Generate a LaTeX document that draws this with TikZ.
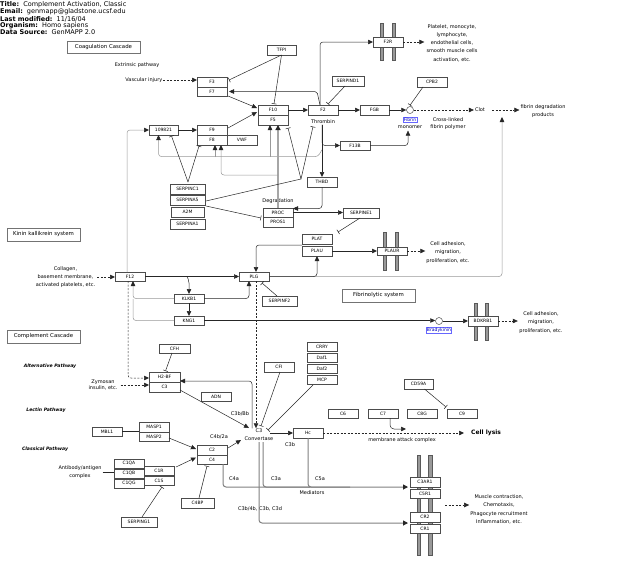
\documentclass[tikz,border=0pt]{standalone}
\usepackage{fontspec}
\setmainfont{DejaVu Sans}
\usetikzlibrary{arrows.meta,calc}
\newcommand\fsg{\fontsize{4.5}{5.5}\selectfont}
\newcommand\fsa{\fontsize{5}{8.3}\selectfont}
\newcommand\fsh{\fontsize{6.5}{7}\selectfont}
\newcommand\fsl{\fontsize{5.4}{6.5}\selectfont}
\newcommand\fsc{\fontsize{6}{7}\selectfont}
\tikzset{
 gene/.style={draw=black!70, fill=white, line width=0.5pt, inner sep=0pt, outer sep=0pt, font=\fsg},
 lbl/.style={draw=black!55, fill=white, line width=0.6pt, inner sep=0pt, font=\fsl},
 txt/.style={inner sep=0.5pt, font=\fsa, align=center},
 con/.style={line width=0.5pt, draw=black!85},
 arr/.style={con, -{Triangle[length=5pt,width=4.5pt]}},
 tee/.style={con, -{Bar[width=5pt]}},
 dsh/.style={dash pattern=on 2pt off 1.5pt},
 gln/.style={line width=0.5pt, draw=black!40},
 garr/.style={gln, -{Triangle[length=5pt,width=4.5pt,color=black!85]}},
 thk/.style={line width=1.6pt, draw=black!35, -{Triangle[length=5pt,width=5pt,color=black!85]}},
 med/.style={line width=1pt, draw=black!50},
 medarr/.style={med, -{Triangle[length=5pt,width=5pt,color=black!85]}},
 mbar/.style={fill=black!40, draw=black!65, line width=0.4pt},
 blbl/.style={draw=blue!60, fill=white, text=blue!75!black, font=\fsg, inner sep=0.6pt, line width=0.4pt},
 dot/.style={circle, draw=black!70, fill=white, minimum size=7pt, inner sep=0pt, line width=0.5pt},
}
\newcommand\gbx[6]{\node[gene, minimum width={(#4-#2)*1pt}, minimum height={(#5-#3)*1pt}] (#1) at ({(#2+#4)/2},{(#3+#5)/2}) {#6};}
\newcommand\lbx[6]{\node[lbl, minimum width={(#4-#2)*1pt}, minimum height={(#5-#3)*1pt}] (#1) at ({(#2+#4)/2},{(#3+#5)/2}) {#6};}
\begin{document}
\begin{tikzpicture}[x=1pt,y=-1pt]
\useasboundingbox (0,0) rectangle (623,563);
\fill[white] (0,0) rectangle (623,563);
% header
\node[anchor=west, inner sep=0, font=\fsh] (h1) at (0,5) {\textbf{Title:}\ \ Complement Activation, Classic};
\node[anchor=west, inner sep=0, font=\fsh] (h2) at (0,12) {\textbf{Email:}\ \ genmapp@gladstone.ucsf.edu};
\node[anchor=west, inner sep=0, font=\fsh] (h3) at (0,19) {\textbf{Last modified:}\ \ 11/16/04};
\node[anchor=west, inner sep=0, font=\fsh] (h4) at (0,26) {\textbf{Organism:}\ \ Homo sapiens};
\node[anchor=west, inner sep=0, font=\fsh] (h5) at (0,32.5) {\textbf{Data Source:}\ \ GenMAPP 2.0};
% membrane bars
\foreach \x in {380,392} \draw[mbar] (\x,23) rectangle ++(3,37);
\foreach \x in {383,395} \draw[mbar] (\x,232) rectangle ++(3.5,38);
\foreach \x in {474,485} \draw[mbar] (\x,303) rectangle ++(3,37);
\foreach \x in {417,428.5} \draw[mbar] (\x,455) rectangle ++(3.5,100);
% label boxes
\lbx{coag}{67}{41}{140}{53}{Coagulation Cascade}
\lbx{kinin}{7}{228}{80}{241}{Kinin kallikrein system}
\lbx{fibsys}{342}{289}{415}{302}{Fibrinolytic system}
\lbx{compl}{7}{330}{80}{343}{Complement Cascade}
% genes
\gbx{F3}{197}{77}{227}{87}{F3}
\gbx{F7}{197}{87}{227}{96}{F7}
\gbx{TFPI}{267}{45}{296}{55}{TFPI}
\gbx{F10}{258}{105}{288}{115}{F10}
\gbx{F5}{258}{115}{288}{125}{F5}
\gbx{F2}{308}{105}{338}{115}{F2}
\gbx{FGB}{360}{105}{389}{115}{FGB}
\gbx{F2R}{373}{37}{403}{47}{F2R}
\gbx{SERPIND1}{332}{76}{364}{86}{SERPIND1}
\gbx{CPB2}{417}{77}{447}{87}{CPB2}
\gbx{F13B}{340}{141}{370}{150}{F13B}
\gbx{n109821}{149}{125}{178}{135}{109821}
\gbx{F9}{197}{125}{227}{135}{F9}
\gbx{F8}{197}{135}{227}{145}{F8}
\gbx{VWF}{227}{135}{257}{145}{VWF}
\gbx{SERPINC1}{170}{184}{205}{194}{SERPINC1}
\gbx{SERPINA5}{170}{195}{205}{205}{SERPINA5}
\gbx{A2M}{171}{207}{204}{217}{A2M}
\gbx{SERPINA1}{170}{219}{205}{229}{SERPINA1}
\gbx{THBD}{307}{177}{337}{187}{THBD}
\gbx{PROC}{263}{208}{293}{217}{PROC}
\gbx{PROS1}{263}{217}{293}{227}{PROS1}
\gbx{SERPINE1}{343}{208}{379}{218}{SERPINE1}
\gbx{PLAT}{302}{234}{332}{244}{PLAT}
\gbx{PLAU}{302}{246}{332}{256}{PLAU}
\gbx{PLAUR}{377}{247}{407}{255}{PLAUR}
\gbx{F12}{115}{272}{145}{281}{F12}
\gbx{PLG}{239}{272}{269}{281}{PLG}
\gbx{SERPINF2}{262}{296}{297}{306}{SERPINF2}
\gbx{KLKB1}{174}{294}{204}{303}{KLKB1}
\gbx{KNG1}{174}{316}{204}{325}{KNG1}
\gbx{BDKRB1}{468}{316}{498}{326}{BDKRB1}
\gbx{CFH}{159}{344}{190}{353}{CFH}
\gbx{H2BF}{149}{372}{180}{382}{H2-BF}
\gbx{C3}{149}{382}{180}{392}{C3}
\gbx{ADN}{201}{392}{231}{401}{ADN}
\gbx{CFI}{264}{362}{294}{372}{CFI}
\gbx{CRRY}{307}{342}{337}{351}{CRRY}
\gbx{Daf1}{307}{353}{337}{362}{Daf1}
\gbx{Daf2}{307}{364}{337}{373}{Daf2}
\gbx{MCP}{307}{375}{337}{384}{MCP}
\gbx{MBL1}{92}{427}{122}{436}{MBL1}
\gbx{MASP1}{139}{422}{169}{432}{MASP1}
\gbx{MASP2}{139}{432}{169}{441}{MASP2}
\gbx{C2}{197}{445}{227}{455}{C2}
\gbx{C4}{197}{455}{227}{464}{C4}
\gbx{C1QA}{114}{459}{144}{468}{C1QA}
\gbx{C1QB}{114}{469}{144}{478}{C1QB}
\gbx{C1QG}{114}{479}{144}{488}{C1QG}
\gbx{C1R}{144}{466}{174}{475}{C1R}
\gbx{C1S}{144}{476}{174}{485}{C1S}
\gbx{SERPING1}{121}{517}{157}{527}{SERPING1}
\gbx{C4BP}{181}{498}{214}{508}{C4BP}
\gbx{Hc}{293}{428}{323}{438}{Hc}
\gbx{C6}{328}{409}{358}{418}{C6}
\gbx{C7}{368}{409}{398}{418}{C7}
\gbx{C8G}{407}{409}{437}{418}{C8G}
\gbx{C9}{447}{409}{477}{418}{C9}
\gbx{CD59A}{404}{379}{433}{389}{CD59A}
\gbx{C3AR1}{410}{477}{440}{487}{C3AR1}
\gbx{C5R1}{410}{489}{440}{498}{C5R1}
\gbx{CR2}{410}{512}{440}{522}{CR2}
\gbx{CR1}{410}{524}{440}{533}{CR1}
% small molecules
\node[dot] (fib) at (410,110) {};
\node[blbl] (fibl) at (410,120) {Fibrin};
\node[dot] (brady) at (439,321) {};
\node[blbl] (bradyl) at (439,330) {Bradykinin};
% free texts
\node[txt] (extr) at (137,65) {Extrinsic pathway};
\node[txt, anchor=east] (vi) at (163,80) {Vascular injury};
\node[txt, inner sep=2pt] (pl) at (452,43) {Platelet, monocyte,\\lymphocyte,\\endothelial cells,\\smooth muscle cells\\activation, etc.};
\node[txt] (thr) at (323,122) {Thrombin};
\node[txt] (mono) at (410,127.5) {monomer};
\node[txt, inner sep=1pt] (clot) at (480,110) {Clot};
\node[txt] (xl) at (448,123.5) {Cross-linked\\[-1.3pt]fibrin polymer};
\node[txt, inner sep=1pt] (fdp) at (543,111) {fibrin degradation\\products};
\node[txt] (degr) at (278,201) {Degradation};
\node[txt, inner sep=1pt] (ca1) at (448,252.5) {Cell adhesion,\\migration,\\proliferation, etc.};
\node[txt, inner sep=1pt] (coll) at (65.5,277) {Collagen,\\basement membrane,\\activated platelets, etc.};
\node[txt, inner sep=1.5pt] (ca2) at (541,322.5) {Cell adhesion,\\migration,\\proliferation, etc.};
\node[txt, font=\fontsize{4.6}{6}\selectfont\bfseries\itshape] (altp) at (50,366) {Alternative Pathway};
\node[txt, inner sep=1pt] (zym) at (103,385) {Zymosan\\[-1.6pt]insulin, etc.};
\node[txt, font=\fontsize{4.6}{6}\selectfont\bfseries\itshape] (lecp) at (46,410) {Lectin Pathway};
\node[txt, font=\fontsize{4.6}{6}\selectfont\bfseries\itshape] (clap) at (45,449) {Classical Pathway};
\node[txt] (c3bbb) at (240,414) {C3b/Bb};
\node[txt] (c4b2a) at (219,437) {C4b/2a};
\node[txt] (cv) at (259,435) {C3\\Convertase};
\node[txt] (c3b) at (290,445) {C3b};
\node[txt] (mac) at (402,440) {membrane attack complex};
\node[anchor=west, inner sep=0pt, font=\fsc\bfseries] (lysis) at (471,433) {Cell lysis};
\node[txt, inner sep=1pt] (ab) at (80,472) {Antibody/antigen\\[-0.6pt]complex};
\node[txt] (c4a) at (234,479) {C4a};
\node[txt] (c3a) at (276,479) {C3a};
\node[txt] (c5a) at (320,479) {C5a};
\node[txt] (medi) at (312,493) {Mediators};
\node[txt] (c3bd) at (260,509) {C3b/4b, C3b, C3d};
\node[txt, inner sep=1pt] (mus) at (499,509.5) {Muscle contraction,\\Chemotaxis,\\Phagocyte recruitment\\Inflammation, etc.};
% coordinates
\coordinate (fdpin) at (502,117);
\coordinate (va) at (301,179);
\coordinate (vc) at ($(SERPINC1.north)+(0.5,-2)$);
\coordinate (tg) at ($(thr.south)+(-1,25)$);
\coordinate (mstart) at ($(C5R1.south east)+(5,7)$);
% ---- connectors: coagulation
\draw[arr,dsh] (vi.east) -- (vi.east -| F3.west);
\draw[tee] (TFPI.south) -- ($(F3.east)+(2,-2)$);
\draw[tee] (TFPI.south) -- ($(F10.north)+(1,-1)$);
\draw[arr, rounded corners=2pt] ($(F2.north west)+(12,0)$) -- ($(F7.east)+(90,0)$) -- ($(F7.east)+(2,0)$);
\draw[arr, rounded corners=3pt] ($(F2.north west)+(12,0)$) |- (F2R.west);
\draw[arr,dsh] (F2R.east) -- (F2R.east -| pl.west);
\draw[arr] ($(F7.south east)+(1,0)$) -- ($(F10.west)+(-1,-2)$);
\draw[arr] ($(F9.east)+(1,-2)$) -- ($(F10.west)+(-1,2)$);
\draw[arr] (n109821.east) -- (F9.west);
\draw[garr, rounded corners=3pt] ($(F12.north)+(-3,0)$) |- (n109821.west);
\draw[arr] (F10.east) -- (F2.west);
\draw[arr] (F2.east) -- (FGB.west);
\draw[arr] (FGB.east) -- (fib.west);
\draw[tee] ($(CPB2.south)+(-9,0)$) -- ($(fib.north)+(0,-1)$);
\draw[tee] ($(SERPIND1.south)+(-3,0)$) -- ($(F2.north)+(5,-1)$);
\draw[arr,dsh] (fib.east) -- (fib.east -| clot.west);
\draw[arr,dsh] ($(clot.east)+(6,0)$) -- (clot.east -| fdp.west);
\draw[arr, rounded corners=3pt] ($(thr.south)+(-1,0)$) |- (F13B.west);
\draw[arr] ($(thr.south)+(-1,0)$) -- (THBD.north);
\draw[arr, rounded corners=3pt] (F13B.east) -| ($(mono.south)+(-2,1)$);
\draw[garr, rounded corners=3pt] (tg) -- ($(tg)+(-4,7)$) -| ($(n109821.south)+(-5,0)$);
\draw[garr] ($(F8.south west)+(18,12)$) -- ($(F8.south west)+(18,0)$);
\draw[garr] ($(F5.south west)+(12,32)$) -- ($(F5.south west)+(12,0)$);
\draw[thk] (PROC.north) -- ($(F5.south)+(5,0)$);
\draw[garr, rounded corners=3pt] ($(PROC.north)+(0,-33)$) -| ($(F8.south west)+(24,0)$);
\draw[tee] (vc) -- ($(n109821.south)+(8,1)$);
\draw[tee] (vc) -- ($(F8.south west)+(2,1)$);
\draw[con] ($(SERPINA5.east)+(1,1)$) -- (va);
\draw[tee] (va) -- ($(F5.south east)+(0,3)$);
\draw[tee] (va) -- ($(thr.south)+(-10,2)$);
\draw[tee] ($(SERPINA5.south east)+(1,1)$) -- ($(PROS1.north west)+(-2,1)$);
\draw[arr, rounded corners=3pt] (THBD.south) |- ($(PROC.east)+(0,-4)$);
\draw[arr] (PROC.east) -- (PROC.east -| SERPINE1.west);
% ---- fibrinolysis / kinin
\draw[tee] ($(SERPINE1.south)+(-1,0)$) -- ($(PLAT.north east)+(6,-2)$);
\draw[arr] (PLAU.east) -- (PLAU.east -| PLAUR.west);
\draw[arr,dsh] (PLAUR.east) -- (PLAUR.east -| ca1.west);
\draw[arr, rounded corners=3pt] ($(PLAT.south west)+(0,1)$) -| ($(PLG.north)+(2,0)$);
\draw[garr, rounded corners=3pt] (PLG.east) -| (fdpin);
\draw[arr, rounded corners=3pt] (PLG.east) -| (PLAU.south);
\draw[arr] (F12.east) -- (PLG.west);
\draw[arr, rounded corners=2pt] ($(F12.east)+(42,0)$) -- ($(KLKB1.north)+(0,-13)$) -- (KLKB1.north);
\draw[arr, rounded corners=3pt] (KLKB1.east) -| ($(PLG.south)+(-5,0)$);
\draw[garr, rounded corners=3pt] (KLKB1.west) -| ($(F12.south)+(3,0)$);
\draw[gln, rounded corners=3pt] (KNG1.west) -| ($(F12.south)+(3,18)$);
\draw[arr] (KLKB1.south) -- (KNG1.north);
\draw[arr] (KNG1.east) -- (KNG1.east -| brady.west);
\draw[arr] (brady.east) -- (BDKRB1.west);
\draw[arr,dsh] (BDKRB1.east) -- (BDKRB1.east -| ca2.west);
\draw[tee] ($(SERPINF2.north west)+(15,0)$) -- ($(PLG.south east)+(-7,2)$);
\draw[arr,dsh] ($(coll.east)+(1,0)$) -- (coll.east -| F12.west);
% ---- complement
\draw[arr,dsh] ($(PLG.south)+(2,0)$) -- ($(cv.north)+(-3,0)$);
\draw[arr,dsh, rounded corners=3pt] ($(F12.south)+(-2,0)$) |- ($(H2BF.west)+(0,1)$);
\draw[tee] ($(CFH.south)+(-2.5,0)$) -- ($(H2BF.north)+(1,-1)$);
\draw[arr,dsh] ($(zym.east)+(2,0)$) -- (zym.east -| C3.west);
\draw[arr, rounded corners=3pt] ($(cv.north)+(-7,0)$) |- ($(H2BF.east)+(0,4)$);
\draw[arr] ($(C3.east)+(0,3)$) -- ($(cv)+(-10,-7)$);
\draw[con] (MBL1.east) -- (MBL1.east -| MASP1.west);
\draw[arr] ($(MASP2.east)+(0,1.5)$) -- ($(C2.west)+(-1,-1)$);
\draw[arr] ($(C1R.north east)+(2,1)$) -- ($(C4.west)+(-1,-2)$);
\draw[arr] ($(C2.east)+(1,-2)$) -- ($(cv)+(-18,5)$);
\draw[tee] ($(CFI.south)+(1,0)$) -- ($(cv)+(2,-9)$);
\draw[tee] ($(MCP.south)+(-9,1)$) -- ($(cv)+(9,-5)$);
\draw[arr] ($(cv)+(11,-2)$) -- (Hc.west);
\draw[arr,dsh] (Hc.east) -- ($(lysis.west)+(-7,0)$);
\draw[arr, rounded corners=4pt] ($(C7.south)+(7,0)$) |- ($(C7.south)+(23,11)$);
\draw[tee] ($(CD59A.south)+(6,0)$) -- ($(C9.north west)+(-1,-2)$);
\draw[con] (ab.east) -- (ab.east -| C1QB.west);
\draw[tee] ($(SERPING1.north)+(3,0)$) -- ($(C1S.south)+(3,2)$);
\draw[tee] ($(C4BP.north)+(1.5,0)$) -- ($(C4.south)+(-5,2)$);
\draw[med, rounded corners=3pt] ($(cv)+(4,7)$) |- ($(C3AR1.south west)+(-100,0)$);
\draw[med, rounded corners=3pt] (Hc.south) |- ($(C3AR1.south west)+(-60,0)$);
\draw[medarr, rounded corners=3pt] ($(C4.south east)+(-4,0)$) |- ($(C3AR1.south west)+(-2,0)$);
\draw[medarr, rounded corners=3pt] ($(cv)+(0,7)$) |- ($(CR2.south west)+(-2,1)$);
\draw[arr,dsh] (mstart) -- (mstart -| mus.west);
\end{tikzpicture}
\end{document}
